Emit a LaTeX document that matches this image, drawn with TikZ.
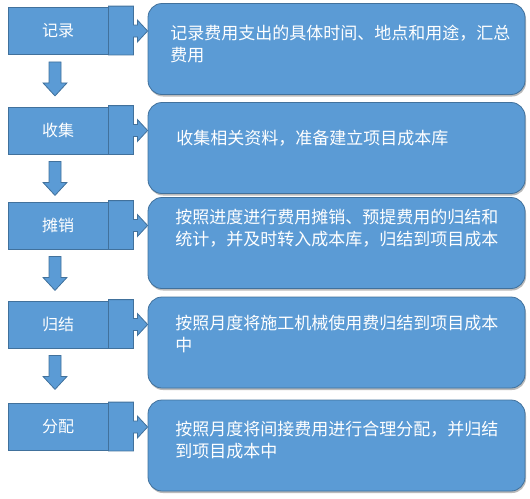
\documentclass[tikz,border=0pt]{standalone}
\usepackage{fontspec}
\newfontfamily\cjk{Noto Sans CJK SC}
\usepackage{xcolor}
\usepackage{tikz}
\usetikzlibrary{calc,shadows}

\definecolor{blu}{RGB}{91,155,213}
\definecolor{bdark}{RGB}{65,113,156}

\begin{document}
\begin{tikzpicture}[
    x=1pt, y=-1pt,
    line width=0.8pt,
    every node/.style={font=\cjk\fontsize{17}{22}\selectfont, text=white},
    stage/.style={draw=bdark, fill=blu, minimum width=100pt, minimum height=47pt,
      inner sep=0pt, font=\cjk\fontsize{16}{20}\selectfont},
    note/.style={draw=bdark, fill=blu, rounded corners=14pt, minimum width=377pt,
      minimum height=91pt, inner sep=0pt,
      drop shadow={shadow xshift=1pt, shadow yshift=-2pt, fill=black!45, opacity=.6}},
    txt/.style={align=left, inner sep=0pt},
    callout/.style={draw=bdark, fill=blu, line join=miter},
    down/.style={draw=bdark, fill=blu}
  ]
    \useasboundingbox (0,0) rectangle (530,498);

    % detail boxes
    \node[note] (nb1) at (336.5,49) {};
    \node[note] (nb2) at (336.5,148) {};
    \node[note] (nb3) at (336.5,243) {};
    \node[note] (nb4) at (336.5,342.5) {};
    \node[note] (nb5) at (336.5,445.5) {};

    \node[txt, anchor=north west] (t1) at (170,25)
      {记录费用支出的具体时间、地点和用途，汇总\\费用};
    \node[txt, anchor=west] (t2) at (176,138)
      {收集相关资料，准备建立项目成本库};
    \node[txt, anchor=north west] (t3) at (175,209)
      {按照进度进行费用摊销、预提费用的归结和\\统计，并及时转入成本库，归结到项目成本};
    \node[txt, anchor=north west] (t4) at (175,315)
      {按照月度将施工机械使用费归结到项目成本\\中};
    \node[txt, anchor=north west] (t5) at (175,421)
      {按照月度将间接费用进行合理分配，并归结\\到项目成本中};

    % stages
    \node[stage] (jl) at (58,31) {记录};
    \node[stage] (sj) at (58,130.5) {收集};
    \node[stage] (tx) at (58,225.5) {摊销};
    \node[stage] (gj) at (58,324.5) {归结};
    \node[stage] (fp) at (58,427) {分配};

    % callouts
    \foreach \a/\b in {jl/nb1, sj/nb2, tx/nb3, gj/nb4, fp/nb5}{
      \draw[callout] ($(\a.north east)+(0,-1)$) -- ++(25,0)
        |- ($(\a.east)+(29,-6)$) -- ++(0,-5) -- (\a.east -| \b.west)
        -- ($(\a.east)+(29,11)$) -- ++(0,-5) -- ++(-4,0)
        |- (\a.south east) -- cycle;
    }

    % down arrows
    \foreach \a in {jl, sj, tx, gj}{
      \draw[down] ($(\a.south)+(-9,7)$) -- ++(12,0) -- ++(0,21) -- ++(6,0)
        -- ++(-12,13) -- ++(-12,-13) -- ++(6,0) -- cycle;
    }
  \end{tikzpicture}
\end{document}
